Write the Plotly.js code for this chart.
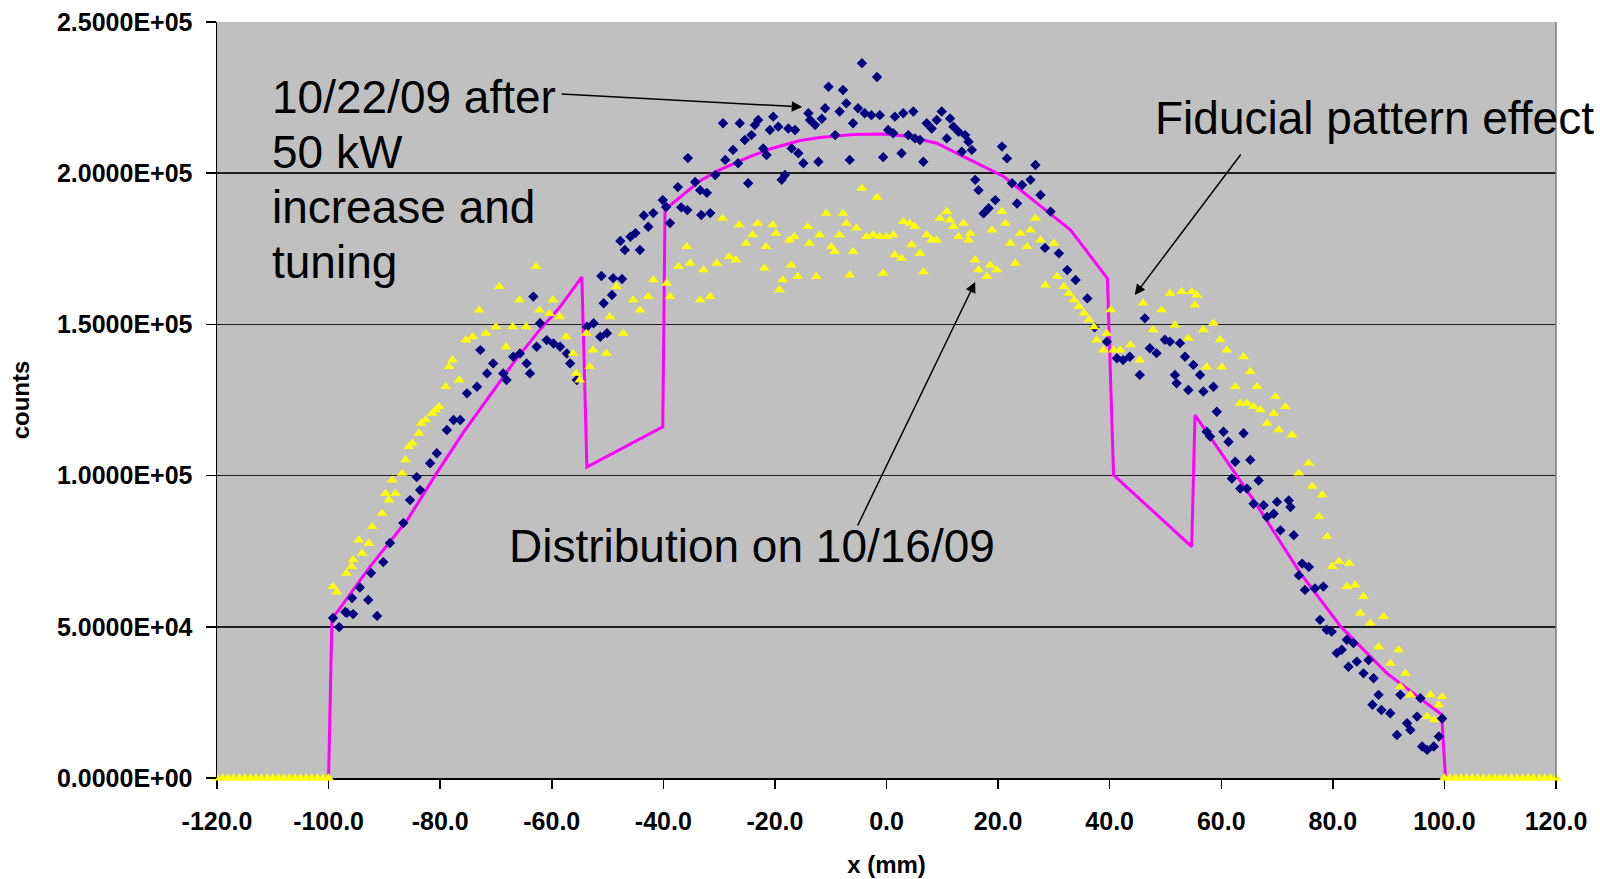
<!DOCTYPE html>
<html>
<head>
<meta charset="utf-8">
<script src="https://cdn.plot.ly/plotly-3.0.1.min.js"></script>
<style>
  html, body { margin: 0; padding: 0; background: #ffffff; }
  #chart { width: 1600px; height: 879px; }
</style>
</head>
<body>
<div id="chart"></div>
<script>
// Beam profile counts versus transverse position x (mm)

// Axis ticks
const xTicks = [-120, -100, -80, -60, -40, -20, 0, 20, 40, 60, 80, 100, 120];
const xTickText = ['-120.0', '-100.0', '-80.0', '-60.0', '-40.0', '-20.0', '0.0', '20.0', '40.0', '60.0', '80.0', '100.0', '120.0'];
const yTicks = [0, 50000, 100000, 150000, 200000, 250000];
const yTickText = ['0.0000E+00', '5.0000E+04', '1.0000E+05', '1.5000E+05', '2.0000E+05', '2.5000E+05'];

// Measured profile, 10/22/09 (after 50 kW increase and tuning): [x, counts]
const oct22Pts = [
  [-99.2,52900],[-98.1,49900],[-97.0,54900],[-96.7,54600],[-95.8,59500],[-95.6,54200],[-94.4,63000],[-92.9,58900],
  [-92.4,67800],[-91.3,53600],[-90.2,71400],[-89.0,77700],[-86.6,84300],[-85.4,91900],[-84.2,99500],[-83.6,95200],
  [-81.8,104100],[-80.6,107400],[-78.8,115100],[-77.6,118400],[-76.4,118400],[-75.2,127200],[-73.4,129400],[-72.8,141500],
  [-71.6,133800],[-70.5,137100],[-68.7,133800],[-68.1,131600],[-66.9,139300],[-65.7,140400],[-64.5,137100],[-63.9,133800],
  [-63.3,159200],[-62.7,142600],[-62.1,150400],[-60.9,144800],[-59.7,143700],[-58.5,142600],[-57.3,140400],[-56.7,137100],
  [-55.5,131600],[-53.7,149200],[-52.5,150400],[-51.3,145900],[-51.1,166000],[-50.7,157000],[-50.1,147100],[-49.2,159700],
  [-49.0,165300],[-47.7,177600],[-47.4,165000],[-46.9,174600],[-45.9,179000],[-45.0,180200],[-44.2,174600],[-43.5,186000],
  [-42.7,182300],[-41.8,186800],[-40.1,191100],[-39.5,188800],[-38.8,183500],[-37.4,195400],[-36.8,188700],[-35.7,187800],
  [-35.6,205000],[-34.3,197100],[-33.4,194400],[-33.2,186200],[-32.2,193500],[-31.6,186800],[-30.7,199400],
  [-29.3,216500],[-28.9,204400],[-27.5,207700],[-26.6,203300],[-26.3,216500],[-25.4,211000],[-24.8,196700],[-24.2,212600],
  [-23.6,215900],[-23.0,217600],[-22.1,208200],[-21.5,206000],[-20.9,214300],[-20.3,218700],[-19.4,215400],[-18.8,197800],
  [-18.2,199400],[-17.6,214800],[-17.0,208200],[-16.4,214300],[-15.8,206600],[-14.9,203300],[-14.0,219800],[-13.7,217600],
  [-12.8,215900],[-12.2,203800],[-11.6,218000],[-11.0,221500],[-10.4,228600],[-9.2,212600],[-8.4,220400],[-7.8,227500],
  [-7.2,223100],[-6.6,204400],[-6.0,216500],[-5.1,221500],[-4.4,236400],[-3.9,219800],[-2.7,219200],[-1.7,231800],
  [-1.2,219200],[-0.6,205300],[0.3,214300],[1.2,213200],[1.5,218700],[2.7,206600],[3.0,219800],[3.9,212600],
  [4.8,220400],[5.1,211500],[6.0,211000],[6.6,203800],[7.2,216500],[8.1,214800],[9.0,217600],[9.9,220400],
  [10.8,211500],[11.4,218100],[12.0,215400],[12.9,213700],[13.5,207100],[14.1,212600],[14.7,210400],[15.3,207700],
  [15.9,197800],[16.5,194400],[17.4,186700],[18.3,188400],[19.5,191100],[20.7,208800],[21.6,204900],[22.5,196700],
  [23.4,190000],[24.3,196100],[25.8,197800],[26.7,202700],[27.6,192800],[28.4,175300],[29.4,187300],[30.9,173500],
  [32.4,168000],[33.9,164700],[36.0,158600],[37.3,149000],[39.5,144300],[41.3,138800],
  [42.4,138200],[43.6,139300],[45.4,133300],[46.3,152000],[47.2,142100],[48.4,140500],[49.9,144900],[50.8,144300],
  [51.7,133300],[52.0,130500],[52.6,143800],[53.5,139300],[54.1,128300],[55.0,136600],[56.2,133300],[56.8,127800],
  [57.4,114500],[58.0,112900],[58.6,129400],[59.2,121100],[60.4,114500],[61.3,111200],[61.9,99000],[62.5,104600],
  [63.4,95700],[64.0,114000],[64.6,95700],[65.2,105200],[65.8,90700],[66.7,98400],[67.6,90200],[68.2,86300],
  [69.4,87400],[70.0,91300],[70.6,81900],[72.1,91800],[72.4,89600],[73.0,80300],[73.9,67000],[74.5,70900],
  [75.7,69800],[75.0,62200],[76.8,62700],[77.7,52300],[78.3,63300],[78.9,49000],[79.8,48400],[80.7,41300],
  [81.6,42400],[82.5,45700],[82.8,36800],[83.7,44600],[84.3,38500],[85.5,34600],[86.4,39000],[87.1,24200],
  [87.3,33000],[88.2,27500],[88.7,22500],[90.3,21400],[91.5,14200],[92.1,27500],[93.3,18100],[93.9,15900],
  [95.1,20300],[95.7,26400],[96.0,10400],[96.9,9300],[98.1,10400],[99.0,13700],[99.6,19700]
];

// Measured profile, 10/16/09: [x, counts]
const oct16Pts = [
  [-120,0],[-119,0],[-118,0],[-117,0],[-116,0],[-115,0],[-114,0],[-113,0],[-112,0],[-111,0],[-110,0],
  [-109,0],[-108,0],[-107,0],[-106,0],[-105,0],[-104,0],[-103,0],[-102,0],[-101,0],[-100,0],
  [-99.2,63300],[-98.5,61500],[-96.8,67700],[-95.9,69900],[-95.6,72100],[-94.6,78700],[-94.0,74300],[-92.8,77600],
  [-92.2,83100],[-90.4,87500],[-89.8,94100],[-89.2,91900],[-88.6,98500],[-88.0,94100],[-86.8,100700],[-86.2,105200],
  [-85.6,109600],[-85.0,110700],[-83.8,114000],[-83.4,117300],[-82.6,118400],[-81.4,120600],[-80.8,121700],[-80.2,122800],
  [-79.0,129400],[-78.4,136000],[-77.8,138200],[-76.6,131600],[-75.4,144800],[-74.2,145900],[-73.0,154700],[-71.8,147000],
  [-70.0,149200],[-69.4,162500],[-68.2,142600],[-67.0,149200],[-65.8,158100],[-64.6,149200],[-62.8,169100],[-62.2,154700],
  [-60.4,153600],[-59.8,158100],[-58.6,152500],[-57.4,145900],[-56.2,140400],[-55.6,133800],[-55.0,131600],[-53.8,147000],
  [-53.2,136000],[-52.6,141500],[-50.2,140400],[-49.6,152500],[-48.4,162500],[-47.2,147000],[-45.4,158100],[-44.2,154700],
  [-42.7,159200],[-41.8,164700],[-39.4,163600],[-38.8,159200],[-37.3,169100],[-35.8,175700],[-35.2,170200],[-33.4,158100],
  [-32.8,168000],[-31.6,159200],[-30.4,170200],
  [-29.4,185100],[-28.2,172400],[-27.0,171300],[-26.4,182900],[-25.2,176800],[-24.0,179600],[-23.1,183400],[-21.9,168600],
  [-21.6,175700],[-20.4,182900],[-19.8,180100],[-19.2,161400],[-18.6,164700],[-17.4,177900],[-17.1,169600],[-16.5,179000],
  [-15.9,165800],[-14.1,182300],[-13.8,176800],[-12.6,165800],[-12.0,179600],[-10.8,186700],[-9.9,175700],[-9.3,174100],
  [-8.4,179600],[-7.8,186700],[-7.2,183400],[-6.6,166300],[-6.0,174100],[-5.4,181800],[-4.4,195000],[-3.6,179000],
  [-2.4,179600],[-1.7,192000],[-1.2,179000],[-0.6,166900],[0.0,179000],[1.2,179600],[1.5,173000],[2.7,171800],
  [3.0,184000],[4.2,183400],[4.5,176300],[5.1,182300],[6.0,173500],[6.6,167400],[7.2,179600],[8.1,177900],
  [9.0,177900],[9.6,185100],[10.8,187300],[11.4,184500],[12.0,182300],[12.9,179000],[13.8,183400],[14.7,177900],
  [15.0,180100],[15.9,171300],[16.5,168000],[18.0,165800],[18.6,169600],[18.9,181200],[19.8,168000],[20.7,187300],
  [21.3,183400],[22.2,176800],[23.1,170200],[24.0,180100],[25.2,175700],[25.8,181200],[26.7,185100],[27.6,177900],
  [28.5,163000],[30.0,176800],[30.6,165800],[31.8,162500],[32.7,160300],[33.6,158100],[34.5,155900],[35.4,153700],
  [36.3,151500],[37.2,149200],[37.7,144800],[38.9,141500],[39.5,147000],[40.2,154800],[40.7,141500],
  [41.9,141500],[43.7,143200],[45.4,138200],[46.0,157000],[47.8,148200],[49.3,154800],[50.8,160300],[51.7,149800],
  [52.9,160800],[54.1,145400],[54.7,160800],[55.3,156400],[55.6,159700],[56.8,148200],[57.4,135900],[58.6,150400],
  [59.8,144900],[60.1,135900],[61.0,141500],[62.5,129400],[63.4,123900],[64.0,139300],[64.6,123900],[65.2,134400],
  [65.8,122800],[66.4,129400],[67.0,121700],[68.2,117300],[69.4,120600],[69.7,126100],[70.3,115100],[71.5,122800],
  [72.7,113400],[73.9,100800],[75.7,104100],[76.3,96400],[77.5,86400],[78.1,93600],[79.0,79800],[79.9,69900],
  [81.1,71600],[82.9,71000],[82.5,63300],[84.0,63800],[84.9,54500],[85.5,60000],[86.7,51200],[88.2,43400],
  [89.1,53400],[90.3,37900],[91.8,42400],[92.1,30200],[93.0,34600],[93.9,27500],[96.9,20300],[97.5,27500],
  [98.1,19200],[99.0,24200],[99.6,26900],
  [100,0],[101,0],[102,0],[103,0],[104,0],[105,0],[106,0],[107,0],[108,0],[109,0],[110,0],
  [111,0],[112,0],[113,0],[114,0],[115,0],[116,0],[117,0],[118,0],[119,0],[120,0]
];

// Calculated distribution including the fiducial pattern
const modelX = [-120, -100, -99.4, -92.6, -85.9, -80.6, -75.9, -71.6, -66.9, -62.6, -58.5, -54.6, -53.7,
  -40.1, -39.7, -33.4, -29.9, -24.5, -20.9, -15.5, -11.9, -5.9, -0.5, 3.7, 9.0, 15.0, 21.0, 27.0, 33.0,
  39.6, 40.7, 54.7, 55.3, 65.8, 74.2, 81.4, 89.7, 99.5, 100.2, 120];
const modelY = [0, 0, 52500, 69800, 85300, 100900, 114100, 125000, 137200, 147200, 155800, 165700, 102800,
  116100, 188000, 197500, 201100, 205500, 208000, 210800, 211800, 212800, 213000, 212200, 209900, 204400, 198900, 190000, 181200,
  165200, 100200, 76500, 120000, 91900, 67700, 50100, 34600, 21000, 0, 0];

const FONT = '"Liberation Sans", Arial, Helvetica, sans-serif';

const traces = [
  {
    type: 'scatter', mode: 'lines', name: 'model',
    x: modelX, y: modelY,
    line: { color: '#ff00ff', width: 3 },
    hoverinfo: 'skip'
  },
  {
    type: 'scatter', mode: 'markers', name: '10/22/09',
    x: oct22Pts.map(p => p[0]), y: oct22Pts.map(p => p[1]),
    marker: { symbol: 'diamond', size: 8, color: '#000080', line: { width: 0 } },
    cliponaxis: false
  },
  {
    type: 'scatter', mode: 'markers', name: '10/16/09',
    x: oct16Pts.map(p => p[0]), y: oct16Pts.map(p => p[1]),
    marker: { symbol: 'triangle-up', size: 9.5, color: '#ffff00', line: { width: 0 } },
    cliponaxis: false
  }
];

const arrowStyle = {
  xref: 'x', yref: 'y', axref: 'x', ayref: 'y', text: '', showarrow: true,
  arrowhead: 2, arrowsize: 1.4, arrowwidth: 1.5, arrowcolor: '#000000', standoff: 0, startstandoff: 0
};
const noteFont = { family: FONT, size: 46, color: '#000000' };
const noteStyle = { xref: 'x', yref: 'y', showarrow: false, xanchor: 'left', yanchor: 'middle', font: noteFont };

const layout = {
  width: 1600, height: 879,
  margin: { l: 217, r: 44, t: 22, b: 101, pad: 0 },
  paper_bgcolor: '#ffffff',
  plot_bgcolor: '#c0c0c0',
  showlegend: false,
  font: { family: FONT, color: '#000000' },
  xaxis: {
    range: [-120, 120], autorange: false,
    tickmode: 'array', tickvals: xTicks, ticktext: xTickText,
    ticks: 'outside', ticklen: 9, tickwidth: 1.5, tickcolor: '#000000',
    ticklabelstandoff: 11,
    showline: true, linecolor: '#000000', linewidth: 1.5,
    layer: 'below traces',
    showgrid: false, zeroline: false,
    tickfont: { family: FONT, size: 25, weight: 700, color: '#000000' },
    title: { text: 'x (mm)', font: { family: FONT, size: 24, weight: 700, color: '#000000' }, standoff: 22 }
  },
  yaxis: {
    range: [0, 250000], autorange: false,
    tickmode: 'array', tickvals: yTicks, ticktext: yTickText,
    ticks: 'outside', ticklen: 10, tickwidth: 1.5, tickcolor: '#000000',
    ticklabelstandoff: 8,
    showline: true, linecolor: '#000000', linewidth: 1.5,
    showgrid: true, gridcolor: '#1e1e1e', gridwidth: 1.5, zeroline: false,
    tickfont: { family: FONT, size: 25, weight: 700, color: '#000000' },
    title: { text: 'counts', font: { family: FONT, size: 24, weight: 700, color: '#000000' }, standoff: 20 }
  },
  shapes: [
    { type: 'line', xref: 'paper', yref: 'paper', x0: 1, x1: 1, y0: 0, y1: 1,
      line: { color: '#808080', width: 1.5 }, layer: 'above' }
  ],
  annotations: [
    Object.assign({}, noteStyle, { x: -110.5, y: 225200, text: '10/22/09 after' }),
    Object.assign({}, noteStyle, { x: -110.5, y: 207000, text: '50 kW' }),
    Object.assign({}, noteStyle, { x: -110.5, y: 188800, text: 'increase and' }),
    Object.assign({}, noteStyle, { x: -110.5, y: 170600, text: 'tuning' }),
    Object.assign({}, noteStyle, { x: 47.8, y: 218300, text: 'Fiducial pattern effect' }),
    Object.assign({}, noteStyle, { x: -68.0, y: 76700, text: 'Distribution on 10/16/09' }),
    Object.assign({}, arrowStyle, { ax: -58.5, ay: 226200, x: -15.1, y: 221900 }),
    Object.assign({}, arrowStyle, { ax: 63.7, ay: 206700, x: 44.5, y: 159700 }),
    Object.assign({}, arrowStyle, { ax: -5.3, ay: 83000, x: 15.9, y: 164000 })
  ]
};

Plotly.newPlot('chart', traces, layout, { displayModeBar: false, staticPlot: true });
</script>
</body>
</html>
